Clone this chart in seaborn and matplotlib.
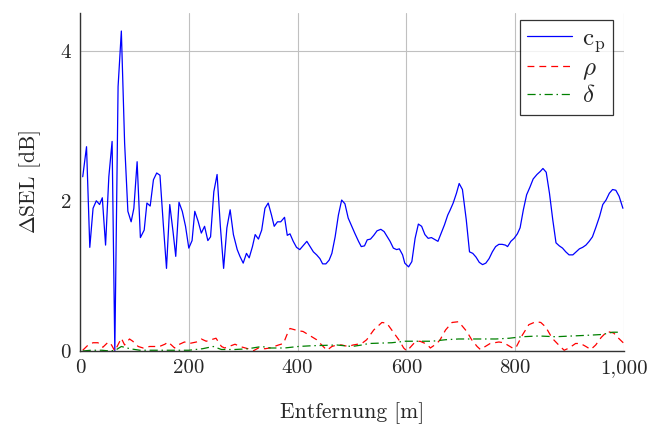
import matplotlib
matplotlib.use("Agg")
import matplotlib.pyplot as plt
import seaborn as sns
import pandas as pd
from matplotlib.ticker import FuncFormatter

# --- data ---
cp_x = [5, 12, 18, 24, 30, 36, 41, 47, 53, 59, 64, 70, 76, 82, 88, 94, 99, 105, 111, 118,
        123, 129, 135, 141, 147, 153, 159, 165, 171, 176, 182, 188, 194, 200, 206, 211, 217,
        223, 229, 235, 240, 246, 252, 258, 264, 270, 276, 282, 289, 294, 300, 306, 311, 317,
        322, 328, 334, 340, 346, 352, 357, 363, 369, 376, 381, 386, 392, 398, 404, 410, 417,
        423, 429, 435, 441, 446, 452, 458, 463, 469, 475, 481, 487, 493, 499, 505, 512, 517,
        523, 528, 534, 540, 546, 553, 559, 565, 570, 576, 582, 587, 593, 597, 604, 610, 616,
        622, 628, 634, 640, 646, 653, 658, 664, 670, 676, 680, 686, 692, 697, 703, 710, 716,
        722, 728, 734, 740, 746, 752, 758, 764, 770, 776, 782, 786, 792, 798, 804, 809, 815,
        821, 827, 833, 840, 846, 851, 857, 863, 869, 875, 881, 887, 893, 899, 906, 912, 918,
        924, 930, 936, 942, 948, 955, 961, 967, 973, 979, 985, 991, 998]
cp_y = [2.32, 2.72, 1.38, 1.90, 2.00, 1.95, 2.04, 1.41, 2.32, 2.79, 0.00, 3.52, 4.26, 2.77,
        1.86, 1.72, 1.90, 2.52, 1.51, 1.61, 1.97, 1.93, 2.28, 2.37, 2.34, 1.70, 1.10, 1.95,
        1.59, 1.26, 1.98, 1.86, 1.66, 1.37, 1.47, 1.86, 1.73, 1.57, 1.66, 1.47, 1.52, 2.12,
        2.35, 1.66, 1.10, 1.64, 1.88, 1.55, 1.35, 1.26, 1.17, 1.30, 1.24, 1.39, 1.55, 1.49,
        1.61, 1.90, 1.97, 1.81, 1.66, 1.72, 1.72, 1.78, 1.54, 1.56, 1.46, 1.38, 1.35, 1.40,
        1.46, 1.39, 1.32, 1.28, 1.23, 1.16, 1.16, 1.21, 1.30, 1.52, 1.81, 2.01, 1.96, 1.77,
        1.67, 1.57, 1.46, 1.39, 1.40, 1.48, 1.49, 1.54, 1.60, 1.62, 1.59, 1.52, 1.46, 1.37,
        1.35, 1.36, 1.28, 1.17, 1.12, 1.19, 1.50, 1.69, 1.66, 1.55, 1.50, 1.51, 1.48, 1.46,
        1.57, 1.68, 1.81, 1.87, 1.97, 2.10, 2.23, 2.15, 1.75, 1.32, 1.30, 1.25, 1.18, 1.15,
        1.17, 1.23, 1.32, 1.39, 1.42, 1.42, 1.41, 1.39, 1.46, 1.50, 1.56, 1.64, 1.88, 2.08,
        2.18, 2.29, 2.35, 2.39, 2.43, 2.38, 2.10, 1.75, 1.44, 1.40, 1.37, 1.32, 1.28, 1.28,
        1.32, 1.36, 1.38, 1.41, 1.46, 1.52, 1.64, 1.79, 1.95, 2.01, 2.10, 2.15, 2.14, 2.06,
        1.90]

rho_x = [5, 15, 24, 33, 42, 52, 58, 64, 76, 82, 91, 97, 107, 116, 128, 137, 146, 156, 162,
         174, 180, 192, 201, 214, 223, 232, 241, 250, 260, 266, 285, 294, 309, 318, 328, 340,
         349, 365, 374, 380, 386, 401, 410, 426, 435, 447, 454, 463, 472, 481, 493, 502, 518,
         527, 540, 555, 564, 577, 586, 595, 601, 616, 625, 638, 644, 656, 662, 672, 684, 696,
         711, 720, 730, 736, 745, 754, 770, 779, 795, 801, 813, 825, 838, 847, 856, 868, 880,
         890, 899, 911, 920, 930, 939, 948, 958, 969, 981, 990, 1000]
rho_y = [0.01, 0.08, 0.11, 0.11, 0.05, 0.12, 0.08, 0.00, 0.17, 0.08, 0.16, 0.13, 0.06, 0.04,
         0.06, 0.06, 0.06, 0.09, 0.12, 0.04, 0.08, 0.12, 0.10, 0.12, 0.16, 0.13, 0.15, 0.17,
         0.06, 0.04, 0.09, 0.06, 0.03, 0.00, 0.04, 0.03, 0.04, 0.08, 0.10, 0.21, 0.30, 0.27,
         0.26, 0.19, 0.15, 0.06, 0.01, 0.06, 0.08, 0.08, 0.06, 0.08, 0.10, 0.15, 0.28, 0.38,
         0.37, 0.24, 0.15, 0.04, 0.00, 0.12, 0.13, 0.09, 0.04, 0.10, 0.15, 0.28, 0.38, 0.39,
         0.26, 0.15, 0.06, 0.02, 0.06, 0.10, 0.12, 0.11, 0.04, 0.04, 0.21, 0.35, 0.39, 0.38,
         0.32, 0.17, 0.08, 0.01, 0.04, 0.10, 0.10, 0.06, 0.02, 0.08, 0.18, 0.26, 0.24, 0.17,
         0.10]

delta_x = [5, 20, 40, 55, 65, 76, 92, 110, 130, 150, 175, 200, 225, 245, 260, 285, 309, 334,
           350, 376, 401, 426, 472, 500, 518, 531, 573, 598, 623, 647, 672, 696, 721, 745,
           765, 789, 813, 843, 874, 905, 935, 960, 979, 995]
delta_y = [0.00, 0.01, 0.01, 0.00, 0.01, 0.06, 0.03, 0.01, 0.01, 0.01, 0.01, 0.01, 0.03, 0.06,
           0.02, 0.02, 0.03, 0.06, 0.04, 0.04, 0.06, 0.07, 0.08, 0.06, 0.08, 0.10, 0.11, 0.13,
           0.13, 0.13, 0.15, 0.16, 0.16, 0.16, 0.16, 0.17, 0.19, 0.20, 0.19, 0.20, 0.21, 0.22,
           0.25, 0.25]

series_labels = [r"$\mathrm{c_p}$", r"$\rho$", r"$\delta$"]
series_colors = ["#0000ff", "#ff0000", "#008000"]

sns.set_style("white")
plt.rcParams["font.family"] = ["cmr10", "DejaVu Serif"]
plt.rcParams["mathtext.fontset"] = "cm"
plt.rcParams["axes.formatter.use_mathtext"] = True

df = pd.concat([
    pd.DataFrame({"x": cp_x, "y": cp_y, "s": series_labels[0]}),
    pd.DataFrame({"x": rho_x, "y": rho_y, "s": series_labels[1]}),
    pd.DataFrame({"x": delta_x, "y": delta_y, "s": series_labels[2]}),
])

fig = plt.figure(figsize=(6.56, 4.28), dpi=100)
ax = fig.add_axes([80 / 656, 1 - 351 / 428, 544 / 656, 338 / 428])

sns.lineplot(data=df, x="x", y="y", hue="s", style="s",
             palette=dict(zip(series_labels, series_colors)),
             dashes={series_labels[0]: "", series_labels[1]: (5.5, 4),
                     series_labels[2]: (6.5, 3, 1.2, 3)},
             linewidth=0.9, ax=ax, legend=True)

ax.set_xlim(0, 1000)
ax.set_ylim(0, 4.5)
ax.set_xticks([0, 200, 400, 600, 800, 1000])
ax.set_yticks([0, 2, 4])
ax.xaxis.set_major_formatter(FuncFormatter(lambda v, p: f"{v:,.0f}"))
ax.grid(True, color="#c0c0c0", linewidth=0.8)
ax.set_axisbelow(True)
for side in ["top", "right"]:
    ax.spines[side].set_visible(False)
for side in ["left", "bottom"]:
    ax.spines[side].set_color("#333333")
    ax.spines[side].set_linewidth(1.0)
ax.tick_params(direction="in", length=4, width=0.8, color="#555555",
               labelsize=15, pad=6)
ax.set_xlabel("Entfernung [m]", fontsize=15.5, labelpad=18)
ax.set_ylabel(r"$\Delta$SEL [dB]", fontsize=15.5, labelpad=12)

leg = ax.legend(loc="upper right", bbox_to_anchor=(0.98, 0.979), borderaxespad=0,
                fontsize=18, frameon=True, fancybox=False, edgecolor="black",
                handlelength=1.8, borderpad=0.3, labelspacing=0.12, handletextpad=0.4)
leg.get_frame().set_linewidth(0.9)

fig.savefig("out.png", dpi=100)
